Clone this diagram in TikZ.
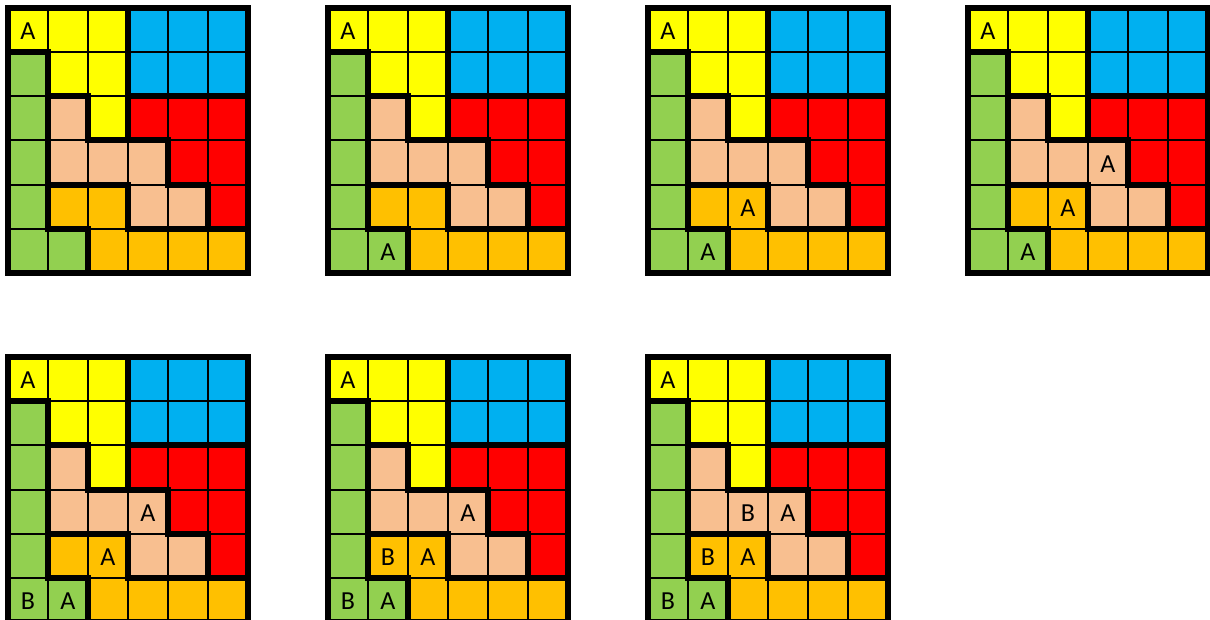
\documentclass[tikz,border=0pt]{standalone}
\usepackage{fontspec}
\setmainfont{Carlito}
\usepackage{xcolor}
\usepackage{tikz}
\usetikzlibrary{positioning}
\definecolor{cellyellow}{HTML}{FFFF00}
\definecolor{cellblue}{HTML}{00B0F0}
\definecolor{cellred}{HTML}{FF0000}
\definecolor{cellgreen}{HTML}{92D050}
\definecolor{cellpeach}{HTML}{F8BF90}
\definecolor{cellorange}{HTML}{FFC000}
\tikzset{
 thin rule/.style={line width=2pt},
 region rule/.style={line width=6pt, line cap=rect},
 letter/.style={font=\fontsize{26}{26}\selectfont, inner sep=0pt, yshift=-1.5pt},
 pics/board/.style={code={
  \fill[cellyellow] (0,0) -- (3,0) -- (3,3) -- (2,3) -- (2,2) -- (1,2) -- (1,1) -- (0,1) -- cycle;
  \fill[cellblue] (3,0) rectangle (6,2);
  \fill[cellred] (3,2) -- (6,2) -- (6,5) -- (5,5) -- (5,4) -- (4,4) -- (4,3) -- (3,3) -- cycle;
  \fill[cellgreen] (0,1) -- (1,1) -- (1,5) -- (2,5) -- (2,6) -- (0,6) -- cycle;
  \fill[cellpeach] (1,2) -- (2,2) -- (2,3) -- (4,3) -- (4,4) -- (5,4) -- (5,5) -- (3,5) -- (3,4) -- (1,4) -- cycle;
  \fill[cellorange] (1,4) -- (3,4) -- (3,5) -- (6,5) -- (6,6) -- (2,6) -- (2,5) -- (1,5) -- cycle;
  \foreach \k in {1,...,5} {
   \draw[thin rule] (\k,0) -- (\k,6);
   \draw[thin rule] (0,\k) -- (6,\k);
  }
  % region borders
  \draw[region rule] (0,1) -- (1,1) -- (1,5) -- (2,5) -- (2,6);
  \draw[region rule] (1,2) -- (2,2) -- (2,3) -- (4,3) -- (4,4) -- (5,4) -- (5,5) -- (6,5);
  \draw[region rule] (1,4) -- (3,4) -- (3,5) -- (5,5);
  \draw[region rule] (3,0) -- (3,3);
  \draw[region rule] (3,2) -- (6,2);
  \draw[region rule] (0,0) rectangle (6,6);
  \foreach \c in {1,...,6}
   \foreach \r in {1,...,6}
    \coordinate (-c\c r\r) at (\c-0.5,\r-0.5);
 }}
}

\begin{document}
\begin{tikzpicture}[x=40pt, y=-44.1667pt]
\useasboundingbox (0,0) rectangle (30.25,14.0377);
\pic (g1) at (0.2,0.1811) {board};
\pic (g2) at (8.2,0.1811) {board};
\pic (g3) at (16.2,0.1811) {board};
\pic (g4) at (24.2,0.1811) {board};
\pic (g5) at (0.2,8.083) {board};
\pic (g6) at (8.2,8.083) {board};
\pic (g7) at (16.2,8.083) {board};
\foreach \g in {1,...,7}
 \node[letter] (a\g) at (g\g-c1r1) {A};
% second step
\node[letter] (g2a6) at (g2-c2r6) {A};
\node[letter] (g3a6) at (g3-c2r6) {A};
\node[letter] (g3a5) at (g3-c3r5) {A};
\node[letter] (g4a6) at (g4-c2r6) {A};
\node[letter] (g4a5) at (g4-c3r5) {A};
\node[letter] (g4a4) at (g4-c4r4) {A};
% with B
\node[letter] (g5a6) at (g5-c2r6) {A};
\node[letter] (g5a5) at (g5-c3r5) {A};
\node[letter] (g5a4) at (g5-c4r4) {A};
\node[letter] (g5b6) at (g5-c1r6) {B};
\node[letter] (g6a6) at (g6-c2r6) {A};
\node[letter] (g6a5) at (g6-c3r5) {A};
\node[letter] (g6a4) at (g6-c4r4) {A};
\node[letter] (g6b6) at (g6-c1r6) {B};
\node[letter] (g6b5) at (g6-c2r5) {B};
\node[letter] (g7a6) at (g7-c2r6) {A};
\node[letter] (g7a5) at (g7-c3r5) {A};
\node[letter] (g7a4) at (g7-c4r4) {A};
\node[letter] (g7b6) at (g7-c1r6) {B};
\node[letter] (g7b5) at (g7-c2r5) {B};
\node[letter] (g7b4) at (g7-c3r4) {B};
\end{tikzpicture}
\end{document}
